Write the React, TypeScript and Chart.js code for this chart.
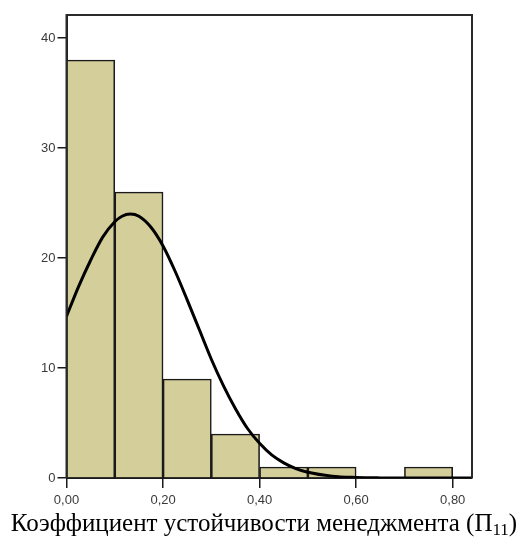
import React, { useEffect, useRef } from "react";
import { Chart, registerables } from "chart.js";

Chart.register(...registerables);

const binCenters = [0.05, 0.15, 0.25, 0.35, 0.45, 0.55, 0.65, 0.75];
const binCounts = [38, 26, 9, 4, 1, 1, 0, 1];
const curveX = [0, 0.025, 0.05, 0.075, 0.1, 0.115, 0.132, 0.15, 0.175, 0.2, 0.225, 0.25, 0.275, 0.3, 0.325, 0.35, 0.375, 0.4, 0.425, 0.45, 0.475, 0.5, 0.55, 0.6, 0.65, 0.7, 0.75, 0.8, 0.84];
const curveY = [14.7, 17.4, 19.8, 21.9, 23.3, 23.8, 24.0, 23.8, 22.8, 21.1, 18.8, 16.2, 13.5, 10.8, 8.4, 6.3, 4.5, 3.15, 2.1, 1.38, 0.86, 0.52, 0.17, 0.05, 0.01, 0, 0, 0, 0];
const xTicks = [0, 0.2, 0.4, 0.6, 0.8];
const yTicks = [0, 10, 20, 30, 40];
const titleMain = "Коэффициент устойчивости менеджмента (П";
const titleSub = "11";
const titleEnd = ")";

export default function App() {
  const ref = useRef<HTMLCanvasElement>(null);
  useEffect(() => {
    if (!ref.current) return;
    const framePlugin = {
      id: "frame",
      afterDraw(chart: any) {
        const { ctx, chartArea } = chart;
        ctx.save();
        ctx.strokeStyle = "#2a2a2a";
        ctx.lineWidth = 2;
        ctx.beginPath();
        ctx.moveTo(chartArea.left, chartArea.bottom);
        ctx.lineTo(chartArea.left, chartArea.top);
        ctx.lineTo(chartArea.right, chartArea.top);
        ctx.lineTo(chartArea.right, chartArea.bottom);
        ctx.stroke();
        const big = '25px "Liberation Serif", "Times New Roman", serif';
        const small = '17px "Liberation Serif", "Times New Roman", serif';
        ctx.fillStyle = "#000";
        ctx.textBaseline = "alphabetic";
        ctx.textAlign = "left";
        ctx.font = big;
        const w1 = ctx.measureText(titleMain).width;
        const w3 = ctx.measureText(titleEnd).width;
        ctx.font = small;
        const w2 = ctx.measureText(titleSub).width;
        const total = w1 + w2 + w3;
        let x = 264 - total / 2;
        const base = 531;
        ctx.font = big;
        ctx.fillText(titleMain, x, base);
        x += w1;
        ctx.font = small;
        ctx.fillText(titleSub, x, base + 4);
        x += w2;
        ctx.font = big;
        ctx.fillText(titleEnd, x, base);
        ctx.restore();
      },
    };
    const chart = new Chart(ref.current, {
      type: "bar",
      data: {
        datasets: [
          {
            type: "line",
            data: curveX.map((x, i) => ({ x, y: curveY[i] })),
            borderColor: "#000",
            borderWidth: 3,
            pointRadius: 0,
            cubicInterpolationMode: "monotone",
            fill: false,
            order: 0,
          } as any,
          {
            type: "bar",
            data: binCenters.map((x, i) => ({ x, y: binCounts[i] })),
            backgroundColor: "#d4ce9a",
            borderColor: "#1a1a1a",
            borderWidth: 1.6,
            barPercentage: 1,
            categoryPercentage: 1,
            order: 1,
          } as any,
        ],
      },
      options: {
        animation: false,
        responsive: false,
        maintainAspectRatio: false,
        layout: { padding: { top: 15, right: 51, left: 0, bottom: 0 } },
        plugins: { legend: { display: false }, tooltip: { enabled: false }, title: { display: false } },
        scales: {
          x: {
            type: "linear",
            offset: false,
            min: 0,
            max: 0.84,
            afterBuildTicks: (s: any) => {
              s.ticks = xTicks.map((v) => ({ value: v }));
            },
            afterFit: (s: any) => {
              s.height = 59;
            },
            ticks: {
              callback: (v: any) => Number(v).toFixed(2).replace(".", ","),
              color: "#3a3a3a",
              font: { family: "Liberation Sans, Arial, sans-serif", size: 13 },
              padding: 5,
              maxRotation: 0,
              autoSkip: false,
            },
            grid: { offset: false, drawOnChartArea: false, drawTicks: true, tickLength: 10, color: "#1a1a1a", lineWidth: 1.5 },
            border: { display: true, color: "#1a1a1a", width: 2 },
          },
          y: {
            type: "linear",
            min: 0,
            max: 42.1,
            afterBuildTicks: (s: any) => {
              s.ticks = yTicks.map((v) => ({ value: v }));
            },
            afterFit: (s: any) => {
              s.width = 66.5;
            },
            ticks: {
              callback: (v: any) => String(v),
              color: "#3a3a3a",
              font: { family: "Liberation Sans, Arial, sans-serif", size: 13 },
              padding: 2,
            },
            grid: { drawOnChartArea: false, drawTicks: true, tickLength: 9, color: "#1a1a1a", lineWidth: 1.5 },
            border: { display: true, color: "#1a1a1a", width: 2 },
          },
        },
      },
      plugins: [framePlugin],
    });
    return () => chart.destroy();
  }, []);
  return (
    <div style={{ position: "fixed", left: 0, top: 0, width: 523, height: 537, background: "#fff" }}>
      <canvas ref={ref} width={523} height={537} style={{ width: 523, height: 537, display: "block" }} />
    </div>
  );
}
